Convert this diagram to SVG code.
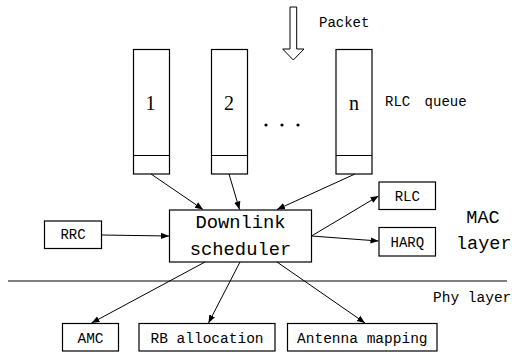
<svg xmlns="http://www.w3.org/2000/svg" width="512" height="352" viewBox="0 0 512 352">
<style>
.box{fill:#fff;stroke:#000;stroke-width:1.2}
.t{font-family:"Liberation Mono","DejaVu Sans Mono",monospace;fill:#000}
.num{font-family:"Liberation Serif",serif;font-size:20px;fill:#000;text-anchor:middle}
.c{stroke:#000;stroke-width:1;fill:none}
</style>
<defs>
<marker id="ah" viewBox="0 0 10 10" refX="10" refY="5" markerWidth="8" markerHeight="8" markerUnits="userSpaceOnUse" orient="auto">
<path d="M0,1 L10,5 L0,9 Z" fill="#000"/>
</marker>
</defs>
<rect width="512" height="352" fill="#fff"/>

<g id="packet">
<polygon points="290,7 296.7,7 296.7,49 304,49 293.3,60 282.7,49 290,49" fill="#fff" stroke="#000" stroke-width="1"/>
<text class="t" x="319" y="27" font-size="14">Packet</text>
</g>

<g id="queue1">
<rect class="box" x="133.5" y="49.5" width="36" height="124.5"/>
<line class="c" x1="133.5" y1="155.5" x2="169.5" y2="155.5"/>
<text class="num" x="150.5" y="110">1</text>
</g>
<g id="queue2">
<rect class="box" x="211.5" y="49.5" width="36" height="124.5"/>
<line class="c" x1="211.5" y1="155.5" x2="247.5" y2="155.5"/>
<text class="num" x="229" y="110">2</text>
</g>
<g id="queuen">
<rect class="box" x="336" y="49.5" width="36" height="124.5"/>
<line class="c" x1="336" y1="155.5" x2="372" y2="155.5"/>
<text class="num" x="354" y="110">n</text>
</g>
<g id="dots">
<circle cx="266" cy="125" r="1.6" fill="#000"/>
<circle cx="282" cy="125" r="1.6" fill="#000"/>
<circle cx="298" cy="125" r="1.6" fill="#000"/>
</g>
<g id="rlcqueue-label">
<text class="t" x="385" y="106" font-size="14" word-spacing="6">RLC queue</text>
</g>

<g id="scheduler">
<rect class="box" x="169.5" y="210" width="142" height="52"/>
<text class="t" x="240.5" y="228" font-size="18.8" text-anchor="middle">Downlink</text>
<text class="t" x="240.5" y="255" font-size="18.8" text-anchor="middle">scheduler</text>
</g>
<g id="rrc">
<rect class="box" x="44.5" y="221" width="57" height="27.5"/>
<text class="t" x="73" y="238.5" font-size="14" text-anchor="middle">RRC</text>
</g>
<g id="rlc">
<rect class="box" x="379" y="182" width="56.5" height="27.5"/>
<text class="t" x="407.3" y="200.5" font-size="14" text-anchor="middle">RLC</text>
</g>
<g id="harq">
<rect class="box" x="379" y="227.5" width="56.5" height="28.5"/>
<text class="t" x="407.3" y="246.5" font-size="14" text-anchor="middle">HARQ</text>
</g>
<g id="mac-label">
<text class="t" x="483" y="223" font-size="18.5" text-anchor="middle">MAC</text>
<text class="t" x="456" y="249" font-size="18.5">layer</text>
</g>

<line class="c" x1="8" y1="281" x2="507" y2="281" stroke-width="1.2"/>

<g id="phy-label">
<text class="t" x="433" y="302" font-size="14.5">Phy layer</text>
</g>
<g id="amc">
<rect class="box" x="62.5" y="323.5" width="56" height="27.5"/>
<text class="t" x="90.5" y="343" font-size="14.5" text-anchor="middle">AMC</text>
</g>
<g id="rb">
<rect class="box" x="139" y="323.5" width="136" height="27.5"/>
<text class="t" x="207" y="343" font-size="14.5" text-anchor="middle">RB allocation</text>
</g>
<g id="antenna">
<rect class="box" x="287.5" y="323.5" width="149.5" height="27.5"/>
<text class="t" x="362.3" y="343" font-size="14.5" text-anchor="middle">Antenna mapping</text>
</g>

<g id="connectors">
<line class="c" x1="151" y1="174" x2="203" y2="209.5" marker-end="url(#ah)"/>
<line class="c" x1="229" y1="174" x2="239.5" y2="209.5" marker-end="url(#ah)"/>
<line class="c" x1="355" y1="174" x2="277" y2="209.5" marker-end="url(#ah)"/>
<line class="c" x1="101.5" y1="235" x2="169" y2="236" marker-end="url(#ah)"/>
<line class="c" x1="311.5" y1="236" x2="378.5" y2="196" marker-end="url(#ah)"/>
<line class="c" x1="311.5" y1="236" x2="378.5" y2="241" marker-end="url(#ah)"/>
<line class="c" x1="205" y1="262" x2="91.5" y2="323" marker-end="url(#ah)"/>
<line class="c" x1="240" y1="262" x2="208.5" y2="323" marker-end="url(#ah)"/>
<line class="c" x1="277" y1="262" x2="365" y2="323" marker-end="url(#ah)"/>
</g>
</svg>
